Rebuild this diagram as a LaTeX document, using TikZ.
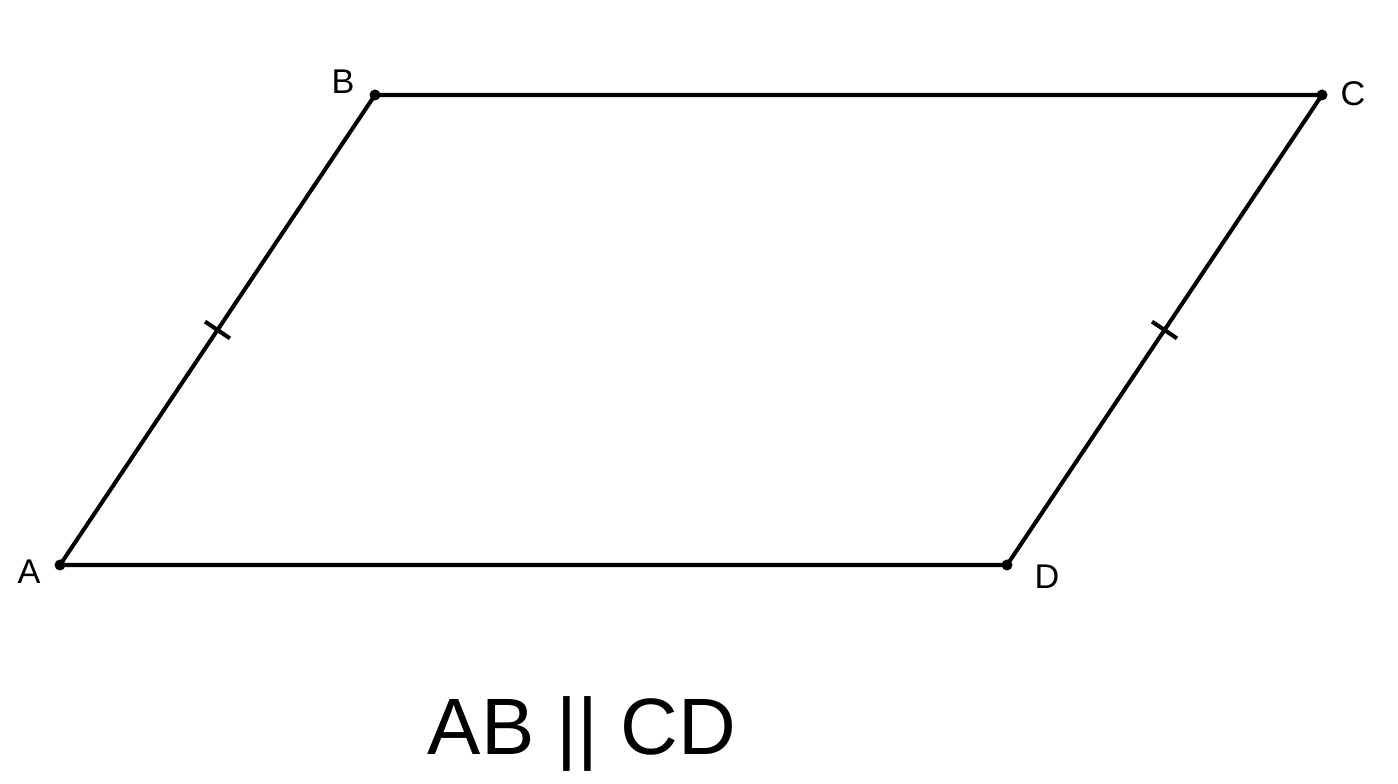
\documentclass[tikz,border=0pt]{standalone}
\usepackage{fontspec}
\setmainfont{Liberation Sans}
\usepackage{tikz}
\usetikzlibrary{positioning,calc}
\tikzset{
  pt/.style={circle, fill=black, inner sep=0pt, minimum size=2.2mm},
  side/.style={line width=2.3pt, line cap=round},
  ticks/.style={line width=2.3pt},
  lbl/.style={font=\fontsize{19.5}{22}\selectfont, inner sep=0pt},
  rel/.style={font=\fontsize{45.5}{52}\selectfont, inner sep=0pt}
}

\begin{document}
\begin{tikzpicture}
    \useasboundingbox (0,0) rectangle (27.96,15.68);
    \node[pt] (A) at (1.2,4.38) {};
    \node[pt] (B) at (7.5,13.78) {};
    \node[pt] (C) at (26.44,13.78) {};
    \node[pt] (D) at (20.14,4.38) {};
    \node[lbl] (lA) at (0.58,4.24) {A};
    \node[lbl] (lB) at (6.86,14.04) {B};
    \node[lbl] (lC) at (27.06,13.8) {C};
    \node[lbl] (lD) at (20.94,4.14) {D};
    \draw[side] (A.center) -- (B.center) -- (C.center) -- (D.center) -- cycle;
    % equal sides
    \coordinate (mAB) at ($(A)!0.5!(B)$);
    \coordinate (mCD) at ($(C)!0.5!(D)$);
    \draw[ticks] ($(mAB)!0.3cm!90:(B)$) -- ($(mAB)!0.3cm!-90:(B)$);
    \draw[ticks] ($(mCD)!0.3cm!90:(C)$) -- ($(mCD)!0.3cm!-90:(C)$);
    \node[rel, anchor=base] (par) at (11.64,0.58) {AB || CD};
  \end{tikzpicture}
\end{document}
